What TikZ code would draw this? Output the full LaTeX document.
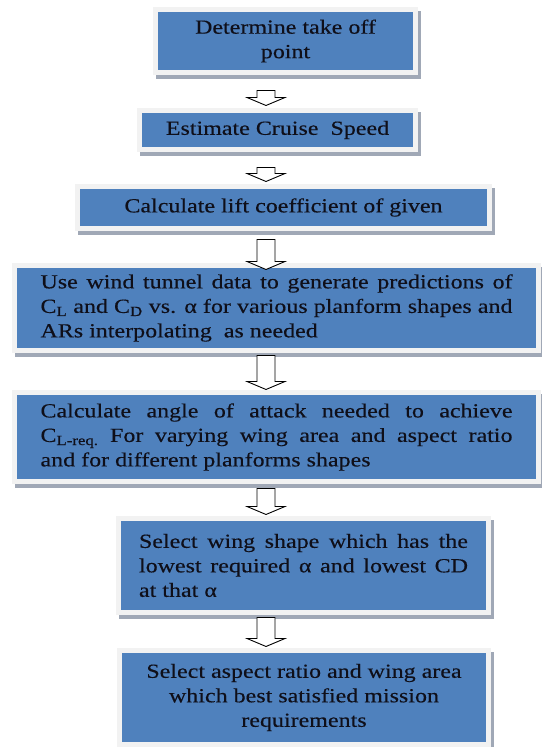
\documentclass[tikz,border=0pt]{standalone}
\usepackage{fontspec}
\setmainfont{Liberation Serif}[FakeStretch=1.2, FakeBold=0.3]
\usepackage{tikz}
\usetikzlibrary{calc, shadows}
\definecolor{stepblue}{RGB}{79,129,189}
\definecolor{framegray}{RGB}{242,242,242}
\definecolor{shadowgray}{RGB}{160,168,182}
\definecolor{inkcolour}{RGB}{15,15,25}

\begin{document}
\begin{tikzpicture}[x=1pt, y=1pt,
    stepbox/.style={rectangle, fill=stepblue, draw=framegray, line width=5pt, inner sep=0pt,
        text=inkcolour, font=\fontsize{20}{24.5}\selectfont,
        drop shadow={shadow xshift=2.5pt, shadow yshift=-4pt, opacity=1, fill=shadowgray, draw=shadowgray, line width=5pt}},
    blockarr/.style={draw=black, fill=white, line width=0.9pt, to path={
        let \p1=(\tikztostart), \p2=(\tikztotarget) in
        (\x1-9pt,\y1) -- (\x1+9pt,\y1) -- (\x1+9pt,\y2+8pt) -- (\x1+19pt,\y2+8pt)
        -- (\x1,\y2) -- (\x1-19pt,\y2+8pt) -- (\x1-9pt,\y2+8pt) -- cycle}}
]
\useasboundingbox (0,0) rectangle (541,747);

\node[stepbox, minimum width=260, minimum height=63, align=center] (b1) at (285.5,706) {Determine take off\\point};
\node[stepbox, minimum width=276, minimum height=39] (b2) at (277.5,617) {Estimate Cruise\ \ Speed};
\node[stepbox, minimum width=412, minimum height=42] (b3) at (283.5,539.5) {Calculate lift coefficient of given};
\node[stepbox, minimum width=524, minimum height=85, text width=472, align=justify] (b4) at (276.5,439)
    {Use wind tunnel data to generate predictions of\linebreak
     C\textsubscript{L} and C\textsubscript{D} vs. α for various planform shapes and\linebreak
     ARs interpolating\ \ as needed};
\node[stepbox, minimum width=524, minimum height=89, text width=472, align=justify] (b5) at (276.5,310)
    {Calculate angle of attack needed to achieve\linebreak
     C\textsubscript{L-req.} For varying wing area and aspect ratio\linebreak
     and for different planforms shapes};
\node[stepbox, minimum width=370, minimum height=94, text width=329, align=justify] (b6) at (303.5,181.5)
    {Select wing shape which has the\linebreak
     lowest required α and lowest CD\linebreak
     at that α};
\node[stepbox, minimum width=369, minimum height=94, align=center] (b7) at (304,49.5)
    {Select aspect ratio and wing area\\which best satisfied mission\\requirements};

% arrow column
\coordinate (acol) at (266,0);
\draw[blockarr] ($(b1.south -| acol)+(0,-15.5)$) to ($(b2.north -| acol)+(0,2.5)$);
\draw[blockarr] ($(b2.south -| acol)+(0,-15.5)$) to ($(b3.north -| acol)+(0,2.5)$);
\draw[blockarr] ($(b3.south -| acol)+(0,-8.5)$) to ($(b4.north -| acol)+(0,-6.5)$);
\draw[blockarr] ($(b4.south -| acol)+(0,-2.5)$) to ($(b5.north -| acol)+(0,0.5)$);
\draw[blockarr] ($(b5.south -| acol)+(0,-4.5)$) to ($(b6.north -| acol)+(0,1.5)$);
\draw[blockarr] ($(b6.south -| acol)+(0,-2.5)$) to ($(b7.north -| acol)+(0,1.5)$);

\end{tikzpicture}
\end{document}
